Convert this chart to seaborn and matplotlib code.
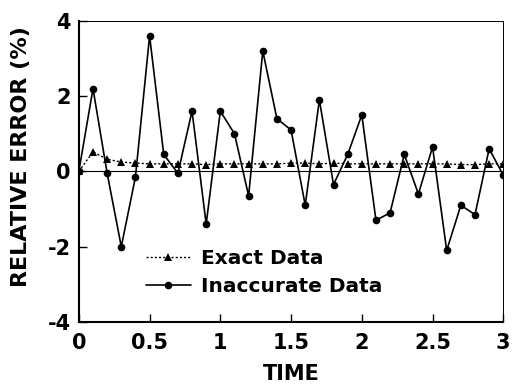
import matplotlib
matplotlib.use("Agg")
import matplotlib.pyplot as plt
import seaborn as sns
import pandas as pd
import numpy as np

time = [round(0.1 * i, 1) for i in range(31)]
exact = [0.0, 0.52, 0.32, 0.25, 0.22, 0.2, 0.2, 0.2, 0.2, 0.18, 0.2,
         0.2, 0.2, 0.2, 0.2, 0.22, 0.22, 0.2, 0.22, 0.2, 0.2,
         0.2, 0.2, 0.2, 0.2, 0.2, 0.2, 0.18, 0.18, 0.2, 0.2]
inaccurate = [0.0, 2.2, -0.05, -2.0, -0.15, 3.6, 0.45, -0.05, 1.6, -1.4, 1.6,
              1.0, -0.65, 3.2, 1.4, 1.1, -0.9, 1.9, -0.35, 0.45, 1.5,
              -1.3, -1.1, 0.45, -0.6, 0.65, -2.1, -0.9, -1.15, 0.6, -0.1]

xticks = [0, 0.5, 1, 1.5, 2, 2.5, 3]
xticklabels = ["0", "0.5", "1", "1.5", "2", "2.5", "3"]
yticks = [-4, -2, 0, 2, 4]
yticklabels = ["-4", "-2", "0", "2", "4"]

sns.set_style("ticks")
plt.rcParams['font.family'] = ['DejaVu Sans']
plt.rcParams['text.color'] = 'black'
plt.rcParams['axes.labelcolor'] = 'black'
plt.rcParams['xtick.color'] = 'black'
plt.rcParams['ytick.color'] = 'black'

fig = plt.figure(figsize=(5.12, 3.86), dpi=100)
ax = fig.add_axes([0.154, 0.166, 0.829, 0.780])

df_e = pd.DataFrame({"t": time, "v": exact})
df_i = pd.DataFrame({"t": time, "v": inaccurate})

ax.axhline(0, color="black", lw=0.8, zorder=1)
sns.lineplot(data=df_e, x="t", y="v", ax=ax, color="black", lw=1.0,
             linestyle=(0, (1.5, 1.5)), marker="^", markersize=5.5,
             markeredgewidth=0, label="Exact Data")
sns.lineplot(data=df_i, x="t", y="v", ax=ax, color="black", lw=1.2,
             marker="o", markersize=5.5, markeredgewidth=0,
             label="Inaccurate Data")

ax.set_xlim(0, 3)
ax.set_ylim(-4, 4)
ax.set_xticks(xticks)
ax.set_xticklabels(xticklabels, fontweight="bold")
ax.set_yticks(yticks)
ax.set_yticklabels(yticklabels, fontweight="bold")
ax.tick_params(direction="in", length=6, width=1, labelsize=15)
ax.tick_params(axis="x", pad=8)
ax.tick_params(axis="y", pad=6)
ax.set_xlabel("TIME", fontsize=15, labelpad=8, fontweight="bold")
ax.set_ylabel("RELATIVE ERROR (%)", fontsize=16, fontweight="bold")
ax.yaxis.set_label_coords(-0.113, 0.55)

for s in ["left", "bottom"]:
    ax.spines[s].set_linewidth(1.5)
for s in ["top", "right"]:
    ax.spines[s].set_linewidth(0.7)
for s in ax.spines.values():
    s.set_color("black")

leg = ax.legend(loc="lower left", bbox_to_anchor=(0.14, 0.06), frameon=False,
                prop={"size": 14.5, "weight": "bold"}, handlelength=2.2,
                handletextpad=0.5, labelspacing=0.45, borderaxespad=0)

fig.savefig("out.png", dpi=100)
